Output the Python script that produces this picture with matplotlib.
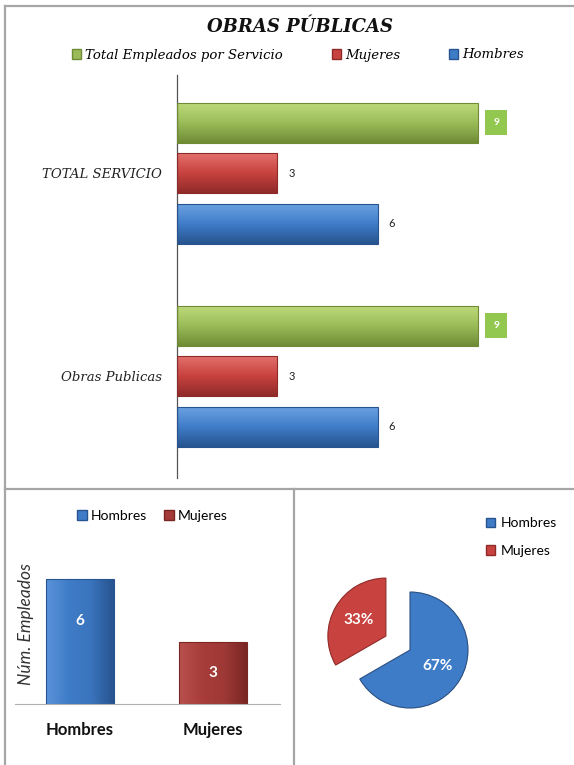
import matplotlib
matplotlib.use("Agg")
import matplotlib.pyplot as plt
import numpy as np
from matplotlib.colors import LinearSegmentedColormap
from matplotlib.patches import Patch
from matplotlib.lines import Line2D

# employee counts per service
servicios = ["TOTAL SERVICIO", "Obras Publicas"]
total_empleados = [9, 9]
mujeres = [3, 3]
hombres = [6, 6]

# summary for the small charts
sexos = ["Hombres", "Mujeres"]
conteo = [6, 3]

W, H = 574, 765
serif = "DejaVu Serif"
sans = "Lato"

verde = ["#bcd97a", "#9bbb59", "#6f8c34"]
rojo = ["#e2706c", "#c8423f", "#8e2b29"]
azul = ["#6aa0e0", "#3f7cc8", "#27548f"]


def px(x0, y0, x1, y1):
    """axes rect from pixel box (left, top, right, bottom)"""
    return [x0 / W, 1 - y1 / H, (x1 - x0) / W, (y1 - y0) / H]


def bevel(ax, bars, colors, along="y"):
    cmap = LinearSegmentedColormap.from_list("b", colors)
    for b in bars:
        x, y = b.get_xy()
        w, h = b.get_width(), b.get_height()
        if along == "y":
            grad = np.linspace(0, 1, 64).reshape(-1, 1)
            ext = [x, x + w, y + h, y]
        else:
            grad = np.linspace(0, 1, 64).reshape(1, -1)
            ext = [x, x + w, y, y + h]
        im = ax.imshow(grad, cmap=cmap, extent=ext, aspect="auto",
                       origin="upper", interpolation="bicubic", zorder=2)
        im.set_clip_path(b)
        b.set_facecolor("none")
        b.set_edgecolor(colors[-1])
        b.set_linewidth(0.8)
        b.set_zorder(3)


fig = plt.figure(figsize=(W / 100, H / 100), dpi=100)
fig.patch.set_facecolor("white")

# frame lines
frame = "#a6a6a6"
for xs, ys in [((5, 574), (6, 6)), ((5, 5), (6, 765)),
               ((5, 574), (489, 489)), ((294, 294), (489, 765))]:
    fig.add_artist(Line2D([x / W for x in xs], [1 - y / H for y in ys],
                          color=frame, lw=1.6, transform=fig.transFigure))

# ---- top: horizontal bars per service
ax = fig.add_axes(px(177, 75, 560, 478))
pos = np.arange(len(servicios))
off, bh = 0.249, 0.197
b_tot = ax.barh(pos - off, total_empleados, height=bh)
b_muj = ax.barh(pos, mujeres, height=bh)
b_hom = ax.barh(pos + off, hombres, height=bh)
bevel(ax, b_tot, verde)
bevel(ax, b_muj, rojo)
bevel(ax, b_hom, azul)

for i in range(len(servicios)):
    ax.annotate(str(total_empleados[i]), xy=(total_empleados[i], pos[i] - off),
                xytext=(11, 0), textcoords="offset points", ha="left", va="center",
                fontsize=7.5, color="white", family=sans, fontweight="bold",
                bbox=dict(boxstyle="square,pad=0.75", fc="#92c84f", ec="none"))
    ax.annotate(str(mujeres[i]), xy=(mujeres[i], pos[i]), xytext=(8, 0),
                textcoords="offset points", ha="left", va="center",
                fontsize=8, family=sans, color="#222")
    ax.annotate(str(hombres[i]), xy=(hombres[i], pos[i] + off), xytext=(8, 0),
                textcoords="offset points", ha="left", va="center",
                fontsize=8, family=sans, color="#222")

ax.set_xlim(0, (560 - 177) / 33.44)
ax.set_ylim(1.502, -0.483)
ax.set_yticks(pos)
ax.set_yticklabels(servicios, family=serif, style="italic", fontsize=9.5, color="#222")
ax.tick_params(axis="y", length=0, pad=11)
ax.set_xticks([])
for s in ["top", "right", "bottom"]:
    ax.spines[s].set_visible(False)
ax.spines["left"].set_color("#555555")
ax.spines["left"].set_linewidth(0.9)
ax.patch.set_alpha(0)

fig.text(300 / W, 1 - 27 / H, "OBRAS PÚBLICAS", ha="center", va="center",
         family=serif, style="italic", fontweight="bold", fontsize=13, color="#111")
fig.legend(handles=[Patch(fc=verde[1], ec=verde[2]), Patch(fc=rojo[1], ec=rojo[2]),
                    Patch(fc=azul[1], ec=azul[2])],
           labels=["Total Empleados por Servicio", "Mujeres", "Hombres"],
           loc="center", bbox_to_anchor=(298 / W, 1 - 55 / H), ncol=3,
           frameon=False, handlelength=0.7, handleheight=0.7, handletextpad=0.3,
           columnspacing=3.7, prop=dict(family=serif, style="italic", size=9.5))

# ---- bottom left: columns
ax2 = fig.add_axes(px(15, 560, 280, 704))
xc = np.arange(len(sexos))
cols = ax2.bar(xc, conteo, width=0.51)
bevel(ax2, [cols[0]], ["#5a93d8", "#3f7cc8", "#3a74bd", "#27548f"], along="x")
bevel(ax2, [cols[1]], ["#b8504d", "#a83d3a", "#9e3936", "#7a2624"], along="x")
for i, v in enumerate(conteo):
    ax2.text(xc[i], v / 2 + (1.0 if i == 0 else 0), str(v), ha="center", va="center",
             color="white", fontsize=11, fontweight="bold", family=sans, zorder=5)
ax2.set_xlim(-0.489, 1.504)
ax2.set_ylim(0, (704 - 560) / 20.83)
ax2.set_xticks(xc)
ax2.set_xticklabels(sexos, family=sans, fontweight="bold", fontsize=12, color="#111")
ax2.tick_params(axis="x", length=0, pad=13)
ax2.set_yticks([])
for s in ["top", "right", "left"]:
    ax2.spines[s].set_visible(False)
ax2.spines["bottom"].set_color("#b0b0b0")
ax2.patch.set_alpha(0)
fig.text(26 / W, 1 - 624 / H, "Núm. Empleados", rotation=90, ha="center", va="center",
         family=sans, style="italic", fontsize=12.5, color="#333")
fig.legend(handles=[Patch(fc=azul[1], ec=azul[2]), Patch(fc="#a53b38", ec="#7a2624")],
           labels=sexos, loc="center", bbox_to_anchor=(152.5 / W, 1 - 516 / H), ncol=2,
           frameon=False, handlelength=0.7, handleheight=0.7, handletextpad=0.3,
           columnspacing=1.2, prop=dict(family=sans, size=10))

# ---- bottom right: pie
R = 58
L = 1.6
cx, cy = 410, 650
ax3 = fig.add_axes(px(cx - L * R, cy - L * R, cx + L * R, cy + L * R))
wedges, _, autotexts = ax3.pie(conteo, colors=[azul[1], rojo[1]], startangle=90,
                               counterclock=False, explode=[0, 0.48],
                               autopct="%1.0f%%", pctdistance=0.55,
                               wedgeprops=dict(edgecolor="#2a4f80", linewidth=0.8))
wedges[1].set_edgecolor("#8e2b29")
for t in autotexts:
    t.set_color("white")
    t.set_fontsize(11)
    t.set_fontweight("bold")
    t.set_family(sans)
ax3.set_xlim(-L, L)
ax3.set_ylim(-L, L)
ax3.set_aspect("equal")
ax3.axis("off")
fig.legend(handles=[Patch(fc=azul[1], ec=azul[2]), Patch(fc=rojo[1], ec=rojo[2])],
           labels=sexos, loc="center", bbox_to_anchor=(521.5 / W, 1 - 537 / H), ncol=1,
           frameon=False, handlelength=0.7, handleheight=0.7, handletextpad=0.4,
           labelspacing=1.1, prop=dict(family=sans, size=10))

fig.savefig("out.png", dpi=100, facecolor="white")
